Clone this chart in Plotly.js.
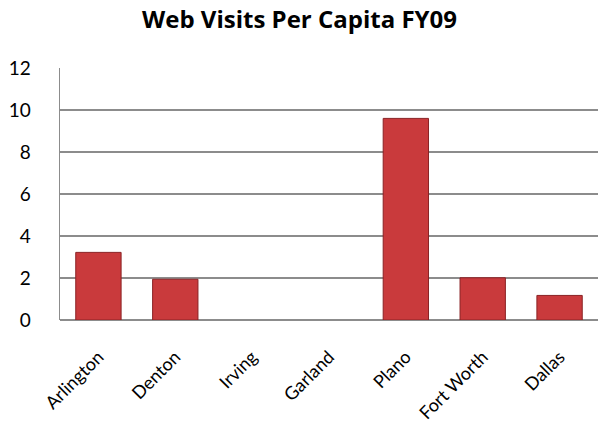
<!DOCTYPE html>
<html>
<head>
<meta charset="utf-8">
<script src="https://cdn.plot.ly/plotly-3.0.1.min.js"></script>
<style>html,body{margin:0;padding:0;background:#fff;}#chart{width:599px;height:425px;}</style>
</head>
<body>
<div id="chart"></div>
<script>
const cities = ["Arlington", "Denton", "Irving", "Garland", "Plano", "Fort Worth", "Dallas"];
const visitsPerCapita = [3.22, 1.94, 0, 0, 9.6, 2.01, 1.17];
const yTicks = [0, 2, 4, 6, 8, 10, 12];

const trace = {
  type: "bar",
  x: cities,
  y: visitsPerCapita,
  width: 0.59,
  marker: {color: "#c93a3c", line: {color: "#8a2224", width: visitsPerCapita.map(v => v > 0 ? 1 : 0)}},
  hoverinfo: "x+y"
};

const layout = {
  width: 599, height: 425,
  margin: {l: 60, r: 1, t: 68, b: 105},
  paper_bgcolor: "#fff", plot_bgcolor: "#fff",
  title: {text: "<b>Web Visits Per Capita FY09</b>", x: 0.5, xanchor: "center", y: 0.955, yanchor: "middle",
          font: {family: "Open Sans, sans-serif", size: 24, color: "#000"}},
  showlegend: false,
  xaxis: {
    type: "category",
    tickangle: -45,
    tickfont: {family: "Lato, sans-serif", size: 18, color: "#000"},
    showgrid: false, showline: false, zeroline: false, ticks: "",
    ticklabelstandoff: 22
  },
  yaxis: {
    range: [0, 12],
    tickvals: yTicks,
    ticktext: yTicks.map(String),
    tickfont: {family: "Lato, sans-serif", size: 19, color: "#000"},
    showgrid: true, gridcolor: "#8c8c8c", gridwidth: 1.5,
    showline: true, linecolor: "#8c8c8c", linewidth: 1.5,
    zeroline: true, zerolinecolor: "#8c8c8c", zerolinewidth: 1.5,
    ticks: "", ticklabelstandoff: 24
  }
};

Plotly.newPlot("chart", [trace], layout, {displayModeBar: false, staticPlot: true});
</script>
</body>
</html>
